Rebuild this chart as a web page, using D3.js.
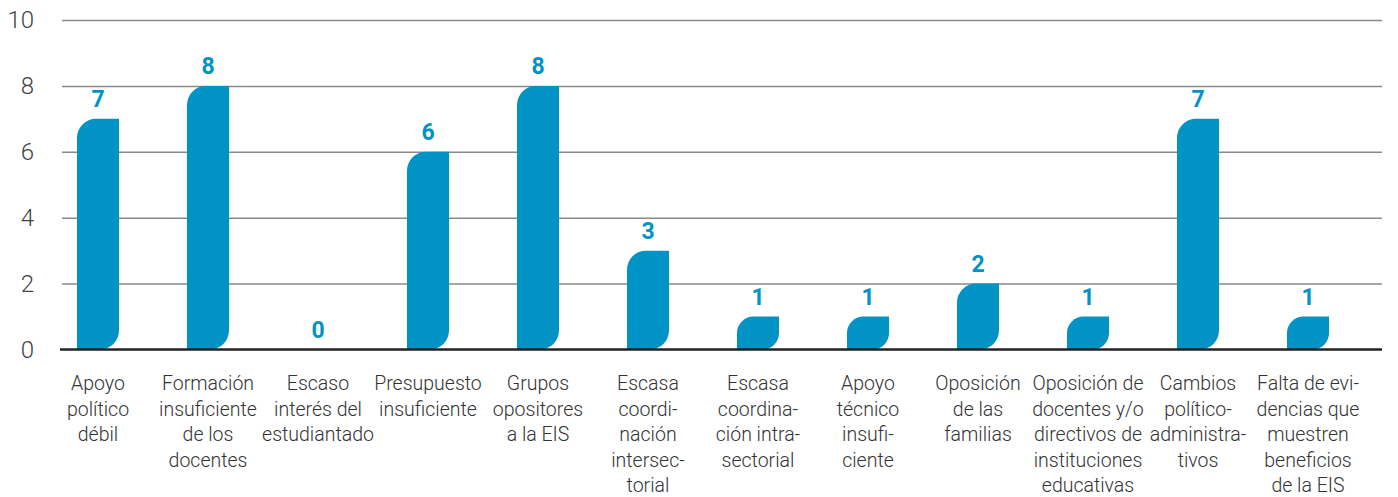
<!DOCTYPE html>
<html>
<head>
<meta charset="utf-8">
<script src="https://cdn.jsdelivr.net/npm/d3@7"></script>
<style>
  html, body { margin: 0; padding: 0; background: #fff; }
  svg { display: block; }
</style>
</head>
<body>
<svg id="chart" width="1398" height="497"></svg>
<script>
// Obstacles reported for comprehensive sexuality education (EIS)
const categories = [
  "Apoyo\npolítico\ndébil",
  "Formación\ninsuficiente\nde los\ndocentes",
  "Escaso\ninterés del\nestudiantado",
  "Presupuesto\ninsuficiente",
  "Grupos\nopositores\na la EIS",
  "Escasa\ncoordi-\nnación\nintersec-\ntorial",
  "Escasa\ncoordina-\nción intra-\nsectorial",
  "Apoyo\ntécnico\ninsufi-\nciente",
  "Oposición\nde las\nfamilias",
  "Oposición de\ndocentes y/o\ndirectivos de\ninstituciones\neducativas",
  "Cambios\npolítico-\nadministra-\ntivos",
  "Falta de evi-\ndencias que\nmuestren\nbeneficios\nde la EIS"
];
const values = [7, 8, 0, 6, 8, 3, 1, 1, 2, 1, 7, 1];
const yTicks = [0, 2, 4, 6, 8, 10];

const svg = d3.select("#chart");
const barColor = "#0193c5";

const x = d3.scaleBand()
  .domain(d3.range(categories.length))
  .range([43, 1363])
  .paddingInner(0.618)
  .paddingOuter(0.309);

const y = d3.scaleLinear()
  .domain([0, 10])
  .range([349.5, 20]);

// Horizontal gridlines with tick labels on the left
const yAxis = d3.axisLeft(y)
  .tickValues(yTicks)
  .tickSize(-(1382 - 62))
  .tickPadding(28);

const gy = svg.append("g")
  .attr("transform", "translate(62,0)")
  .call(yAxis);
gy.select(".domain").remove();
gy.selectAll(".tick line")
  .attr("stroke", "#8a8a8a")
  .attr("stroke-width", 1.5);
gy.selectAll(".tick text")
  .attr("fill", "#444")
  .style("font-family", "Roboto, sans-serif")
  .style("font-weight", 300)
  .style("font-size", "24px");
gy.selectAll(".tick").filter(d => d === 0).select("line").remove();

// Leaf-shaped bar: rounded top-left and bottom-right corners
function leafPath(x0, w, yTop, yBot) {
  const h = yBot - yTop;
  const r = Math.min(19, h / 2, w / 2);
  const x1 = x0 + w;
  return `M${x0},${yTop + r}` +
    `A${r},${r} 0 0 1 ${x0 + r},${yTop}` +
    `L${x1},${yTop}` +
    `L${x1},${yBot - r}` +
    `A${r},${r} 0 0 1 ${x1 - r},${yBot}` +
    `L${x0},${yBot}Z`;
}

svg.append("g")
  .selectAll("path")
  .data(values.map((v, i) => ({ v, i })).filter(d => d.v > 0))
  .join("path")
  .attr("d", d => leafPath(x(d.i), x.bandwidth(), y(d.v), y(0)))
  .attr("fill", barColor);

// Baseline at zero
svg.append("line")
  .attr("x1", 60).attr("x2", 1382)
  .attr("y1", y(0)).attr("y2", y(0))
  .attr("stroke", "#222")
  .attr("stroke-width", 2.5);

// Value labels above bars
svg.append("g")
  .selectAll("text")
  .data(values)
  .join("text")
  .attr("x", (d, i) => x(i) + x.bandwidth() / 2)
  .attr("y", d => y(d) - 12)
  .attr("text-anchor", "middle")
  .attr("fill", barColor)
  .style("font-family", "Roboto, sans-serif")
  .style("font-weight", 700)
  .style("font-size", "23px")
  .text(d => d);

// Category labels under the baseline
const catG = svg.append("g")
  .selectAll("text")
  .data(categories)
  .join("text")
  .attr("x", (d, i) => x(i) + x.bandwidth() / 2)
  .attr("y", 390)
  .attr("text-anchor", "middle")
  .attr("fill", "#333")
  .style("font-family", "Roboto, sans-serif")
  .style("font-weight", 300)
  .style("font-size", "19.5px");

catG.selectAll("tspan")
  .data(d => d.split("\n"))
  .join("tspan")
  .attr("x", function () { return d3.select(this.parentNode).attr("x"); })
  .attr("dy", (d, i) => i === 0 ? 0 : 25.5)
  .text(d => d);
</script>
</body>
</html>
